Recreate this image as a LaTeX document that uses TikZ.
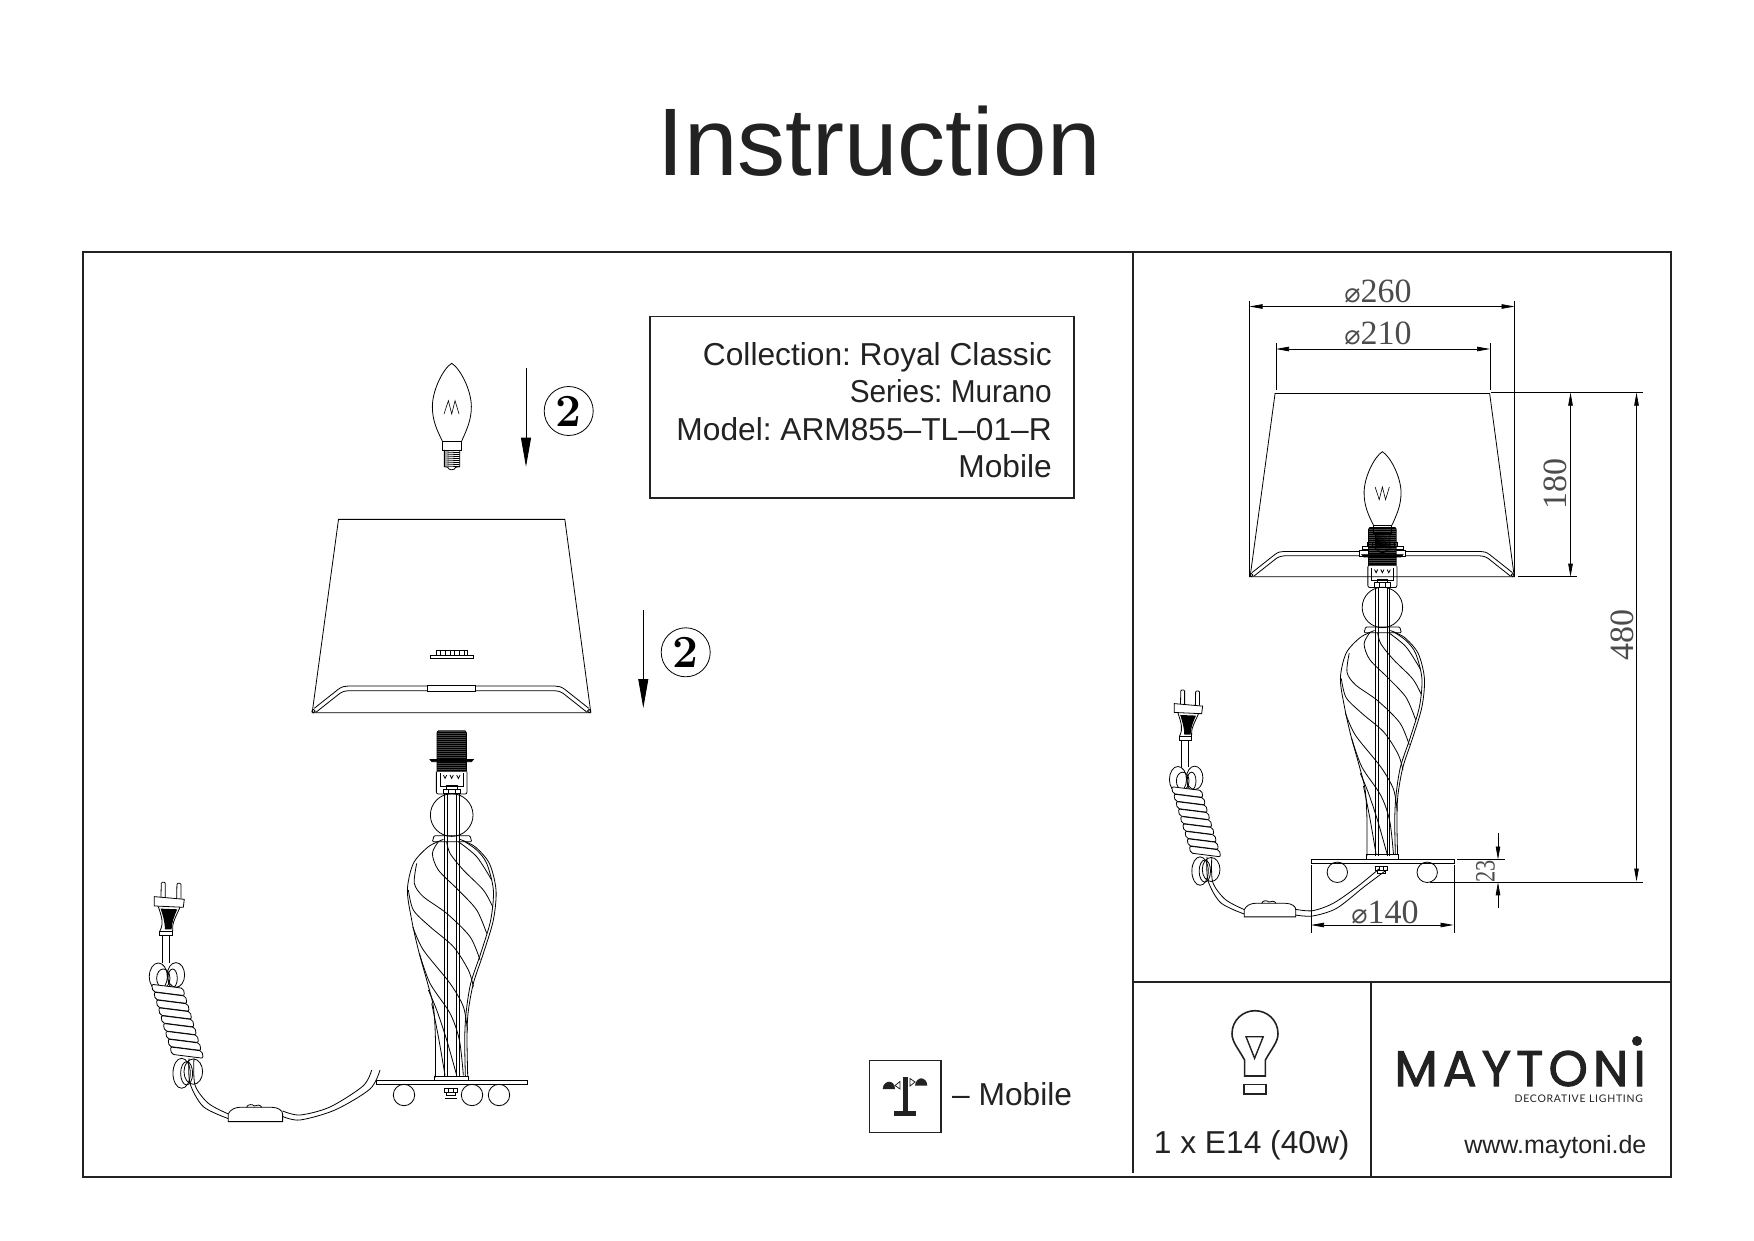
\documentclass[tikz,border=0pt]{standalone}
\usepackage{fontspec}
\usetikzlibrary{arrows.meta}
\frenchspacing
\newfontfamily\labelfont{Liberation Sans}
\newfontfamily\dimfont{Liberation Serif}
\newfontfamily\symfont{DejaVu Sans}
\newfontfamily\logofont[LetterSpace=10.5,FakeBold=2]{Poppins}
\newfontfamily\subfont[LetterSpace=7]{Lato}
\definecolor{inkdark}{HTML}{222222}
\tikzset{
  framerule/.style={draw=inkdark,line width=1.7pt},
  sketch/.style={draw=black,line width=.8pt},
  labeltext/.style={font=\labelfont\fontsize{31.7}{36}\selectfont,text=inkdark,inner sep=0pt},
  dimtext/.style={font=\dimfont\fontsize{34}{36}\selectfont,text=black!70,inner sep=0pt},
  dimline/.style={draw=black,line width=.7pt},
  dimarrow/.style={draw=black,line width=.7pt,{Triangle[length=13pt,width=4.5pt]}-{Triangle[length=13pt,width=4.5pt]}},
  fitarrow/.style={draw=black,line width=.8pt,-{Triangle[length=29pt,width=10pt]}},
  lampshade/.pic={
    \begin{scope}[shift={(-515,-1118)}]
      \draw[sketch] (97,1118) -- (176,538) -- (855,538) -- (933,1118) -- cycle;
      \draw[sketch] (103,1105) -- (175,1048) .. controls (185,1040) and (195,1038) .. (205,1038) -- (442,1038);
      \draw[sketch] (108,1117) -- (180,1060) .. controls (190,1054) and (198,1052) .. (205,1052) -- (442,1052);
      \draw[sketch] (927,1105) -- (855,1048) .. controls (845,1040) and (835,1038) .. (825,1038) -- (588,1038);
      \draw[sketch] (922,1117) -- (850,1060) .. controls (840,1054) and (832,1052) .. (825,1052) -- (588,1052);
      \draw[sketch] (442,1035) rectangle (588,1054);
      \draw[sketch] (101,1113) circle (5);
      \draw[sketch] (928,1113) circle (5);
    \end{scope}
  },
  shadeclip/.pic={
    \begin{scope}[shift={(-515,-946)}]
      \draw[sketch] (451,946) rectangle (580,955);
      \draw[sketch] (468,932) rectangle (563,946);
      \foreach \x in {482,496,510,524,538,552}
        \draw[sketch] (\x,932) -- (\x,946);
    \end{scope}
  },
  lampbulb/.pic={
    \begin{scope}[shift={(-515,-70)}]
      \draw[sketch] (487,303) .. controls (470,270) and (457,240) .. (457,200)
        .. controls (457,150) and (490,85) .. (515,70)
        .. controls (540,85) and (574,150) .. (574,200)
        .. controls (574,240) and (560,270) .. (545,303);
      \draw[sketch] (487,303) rectangle (545,330);
      \draw[sketch] (493,330) -- (493,380) -- (503,382) .. controls (505,392) and (525,392) .. (527,382) -- (539,380) -- (539,330);
      \foreach \y in {336,342,...,378}
        \draw[sketch] (493,\y) -- (539,\y+2);
    \end{scope}
  },
  bulbwire/.pic={
    \draw[draw=black,line width=.6pt] (-23,20) -- (-10,-20) -- (0,20) -- (10,-20) -- (22,20);
  },
  lampbody/.pic={
    \begin{scope}[shift={(-965,-1082)}]
      % thread of the socket
      \fill[black!72] (921,34) rectangle (1009,155);
      \foreach \y in {36,42,...,154}
        \draw[draw=black,line width=.6pt] (921,\y) -- (1009,\y);
      \draw[sketch] (921,155) -- (921,38) -- (925,32) -- (1005,32) -- (1009,38) -- (1009,155);
      \draw[sketch,fill=black] (900,118) -- (1030,118) -- (1024,125) -- (906,125) -- cycle;
      \draw[sketch,rounded corners=2pt] (919,155) -- (919,222) -- (1011,222) -- (1011,155);
      \draw[sketch] (930,160) -- (930,200) -- (1000,200) -- (1000,160);
      \draw[sketch] (948,195) rectangle (982,207);
      \draw[sketch] (940,207) rectangle (990,220);
      \draw[sketch] (955,207) -- (955,220);
      \draw[sketch] (975,207) -- (975,220);
      \draw[sketch] (940,165) -- (945,175) -- (950,165) (960,165) -- (965,175) -- (970,165) (980,165) -- (985,175) -- (990,165);
      % sphere and collar
      \draw[sketch] (965,285) circle (64);
      \draw[sketch,rounded corners=1pt] (912,347) -- (1020,347) -- (1025,365) -- (907,365) -- cycle;
      % rods
      \draw[sketch] (942,222) -- (942,1072);
      \draw[sketch] (952,222) -- (952,1072);
      \draw[sketch] (980,222) -- (980,1072);
      \draw[sketch] (988,222) -- (988,1072);
      % outer shape of the glass
      \draw[sketch] plot[smooth] coordinates {(940,358) (895,380) (850,430) (832,510) (845,600) (865,690) (890,780) (910,860) (916,950) (916,1072)};
      \draw[sketch] plot[smooth] coordinates {(990,358) (1035,380) (1078,430) (1098,510) (1090,600) (1060,700) (1030,790) (1014,880) (1011,960) (1013,1068)};
      \draw[sketch] plot[smooth] coordinates {(1000,362) (1040,390) (1070,430) (1090,510) (1082,600) (1052,700) (1022,790) (1008,880) (1004,960) (1006,1068)};
      % swirls
      \draw[sketch] plot[smooth] coordinates {(950,365) (960,400) (1000,450) (1060,510) (1088,560)};
      \draw[sketch] plot[smooth] coordinates {(925,365) (907,400) (925,450) (985,510) (1040,570) (1070,640)};
      \draw[sketch] plot[smooth] coordinates {(860,430) (853,490) (880,530) (950,580) (1020,650) (1050,720)};
      \draw[sketch] plot[smooth] coordinates {(835,510) (850,570) (900,620) (970,680) (1015,750) (1030,800)};
      \draw[sketch] plot[smooth] coordinates {(848,620) (880,690) (960,790) (1000,860) (1012,930)};
      \draw[sketch] plot[smooth] coordinates {(868,700) (900,790) (960,880) (988,960) (1000,1066)};
      \draw[sketch] plot[smooth] coordinates {(895,810) (920,870) (950,960) (980,1066)};
      \draw[sketch] plot[smooth] coordinates {(905,850) (925,950) (945,1066)};
      \draw[sketch] plot[smooth] coordinates {(985,365) (1040,410) (1085,480)};
      % foot
      \draw[sketch] (914,1068) rectangle (1016,1082);
      \draw[sketch] (740,1082) rectangle (1192,1094);
      \draw[sketch] (942,1105) rectangle (982,1118);
      \draw[sketch] (948,1118) rectangle (976,1127);
      \draw[sketch] (955,1105) -- (955,1118) (969,1105) -- (969,1118);
    \end{scope}
  },
  lampcord/.pic={
    \begin{scope}[shift={(-100,-487)}]
      % plug
      \draw[sketch,rounded corners=1pt] (93,532) -- (94,487) -- (106,487) -- (106,532);
      \draw[sketch,rounded corners=1pt] (140,536) -- (141,490) -- (153,490) -- (153,536);
      \draw[sketch] (73,530) -- (163,538) -- (160,562) -- (73,558) -- cycle;
      \draw[sketch] (85,560) .. controls (95,590) and (102,610) .. (90,633);
      \draw[sketch] (150,562) .. controls (138,590) and (125,610) .. (128,633);
      \fill[black] (92,566) -- (142,568) .. controls (132,590) and (125,610) .. (125,628) -- (105,628) .. controls (105,610) and (100,590) .. (92,566) -- cycle;
      \draw[sketch] (88,633) rectangle (128,645);
      \draw[sketch] (97,645) -- (97,730);
      \draw[sketch] (118,645) -- (118,730);
      % loops of the coil
      \draw[sketch] (85,770) ellipse (27 and 41);
      \draw[sketch] (138,765) ellipse (26 and 37);
      \draw[sketch] (100,775) ellipse (20 and 28);
      \draw[sketch] (128,775) ellipse (14 and 28);
      \draw[sketch] (155,1060) ellipse (26 and 45);
      \draw[sketch] (190,1055) ellipse (28 and 38);
      \draw[sketch] (170,1060) ellipse (18 and 35);
      % turns of the coil
      \foreach \i in {0,...,8}
        \draw[sketch,fill=white,rounded corners=2pt] ({65+7*\i},{793+23.5*\i}) -- ({160+7*\i},{805+23.5*\i}) -- ({164+7*\i},{827+23.5*\i}) -- ({69+7*\i},{815+23.5*\i}) -- cycle;
      % cable and switch
      \draw[sketch] plot[smooth] coordinates {(177,1015) (180,1090) (220,1160) (295,1196)};
      \draw[sketch] plot[smooth] coordinates {(192,1015) (195,1095) (235,1150) (295,1182)};
      \draw[sketch,fill=white] (295,1205) -- (295,1182) .. controls (300,1170) and (315,1162) .. (330,1162) -- (425,1162) .. controls (445,1162) and (458,1172) .. (458,1182) -- (458,1205) -- cycle;
      \draw[sketch] (350,1162) .. controls (352,1152) and (370,1152) .. (372,1158) .. controls (380,1154) and (392,1154) .. (395,1162);
    \end{scope}
  }
}
\begin{document}
\begin{tikzpicture}[x=1pt,y=-1pt]
  \useasboundingbox (0,0) rectangle (1754,1241);
  % title and frames
  \node[font=\labelfont\fontsize{96}{100}\selectfont,text=inkdark,inner sep=0pt,anchor=base] (title) at (879,176) {Instruction};
  \draw[framerule] (83,252) rectangle (1671,1177);
  \draw[framerule] (1133,252) -- (1133,1173);
  \draw[framerule] (1133,982) -- (1671,982);
  \draw[framerule] (1371,982) -- (1371,1177);
  \draw[framerule] (650,316.5) rectangle (1074,498);
  % model box
  \node[labeltext,anchor=base east] (collection) at (1052,365) {Collection: Royal Classic};
  \node[labeltext,anchor=base east,xscale=.94] (series) at (1052,402.5) {Series: Murano};
  \node[labeltext,anchor=base east] (model) at (1052,440) {Model: ARM855–TL–01–R};
  \node[labeltext,anchor=base east] (mobile) at (1052,477.5) {Mobile};
  % exploded lamp
  \pic[scale=.3333] at (451.7,363.3) {lampbulb};
  \pic[scale=.3333] at (451.7,407.3) {bulbwire};
  \pic[scale=.3333] at (451.5,712.7) {lampshade};
  \pic[scale=.3333] at (451.7,655.3) {shadeclip};
  \pic[scale=.3333] at (451.7,1080.7) {lampbody};
  \pic[scale=.3333] at (163.3,882.3) {lampcord};
  \draw[sketch] (404,1095) circle (10.7);
  \draw[sketch] (472,1095) circle (10.7);
  \draw[sketch] (499,1095) circle (10.7);
  \draw[sketch] (445,1098) -- (457,1098);
  \draw[sketch] plot[smooth] coordinates {(282.7,1111) (300,1115) (330,1107) (363,1086) (371.7,1070)};
  \draw[sketch] plot[smooth] coordinates {(282.7,1116.5) (300,1120) (335,1110) (370,1089) (380,1070)};
  % fitting arrows
  \coordinate (arrowa1) at (526,368.3);
  \coordinate (arrowa2) at (526,466.7);
  \coordinate (arrowb1) at (643.3,610);
  \coordinate (arrowb2) at (643.3,708);
  \draw[fitarrow] (arrowa1) -- (arrowa2);
  \draw[fitarrow] (arrowb1) -- (arrowb2);
  \node[draw=black,line width=.8pt,circle,minimum size=49pt,inner sep=0pt,font=\bfseries\fontsize{46}{46}\selectfont] (stepa) at (568.7,411) {2};
  \node[draw=black,line width=.8pt,circle,minimum size=49pt,inner sep=0pt,font=\bfseries\fontsize{46}{46}\selectfont] (stepb) at (685.7,652.3) {2};
  % mobile icon
  \draw[draw=inkdark,line width=1.5pt] (869.3,1060.7) rectangle (941,1132.7);
  \fill[inkdark] (903.3,1077.3) rectangle (907.7,1111.7);
  \fill[inkdark] (894,1111.3) rectangle (916,1116);
  \fill[inkdark] (882.7,1089) .. controls (882.7,1083) and (888,1081.7) .. (889,1081.7) .. controls (892,1081.7) and (895,1084) .. (895,1089) -- cycle;
  \fill[inkdark] (915,1085.7) .. controls (915,1080) and (920,1078.3) .. (921,1078.3) .. controls (924,1078.3) and (927.3,1081) .. (927.3,1085.7) -- cycle;
  \draw[draw=inkdark,line width=.8pt] (895,1085.5) -- (900,1081.5) -- (900,1089) -- cycle;
  \draw[draw=inkdark,line width=.8pt] (915,1082) -- (910,1078.5) -- (910,1086) -- cycle;
  \node[labeltext,anchor=base west] (mobilekey) at (952,1105) {– Mobile};
  % dimensioned lamp
  \pic[scale=.316] at (1382.2,576.7) {lampshade};
  \pic[scale=.316] at (1382.4,859.3) {lampbody};
  \pic[scale=.316] at (1382.4,546.7) {shadeclip};
  \pic[scale=.316] at (1382.4,451.7) {lampbulb};
  \pic[scale=.316,yscale=-1] at (1382.4,493.3) {bulbwire};
  \pic[scale=.316] at (1182.7,690) {lampcord};
  \draw[sketch] (1337.3,872.3) circle (10.2);
  \draw[sketch] (1427.2,872.3) circle (10.2);
  \draw[sketch] plot[smooth] coordinates {(1295.3,909.3) (1312.5,910.7) (1333.2,903.3) (1357.3,886.7) (1379.7,868.3)};
  \draw[sketch] plot[smooth] coordinates {(1295.3,915) (1312.5,916) (1336.6,908.3) (1364.2,886.7) (1386.5,870)};
  % dimensions
  \coordinate (w260a) at (1249.5,306.5);
  \coordinate (w260b) at (1514.6,306.5);
  \coordinate (w210a) at (1276,349);
  \coordinate (w210b) at (1490,349);
  \coordinate (h180a) at (1570.5,392.6);
  \coordinate (h180b) at (1570.5,576.7);
  \coordinate (h480a) at (1636.5,392.6);
  \coordinate (h480b) at (1636.5,881.5);
  \coordinate (w140a) at (1311,925);
  \coordinate (w140b) at (1453.5,925);
  \draw[dimarrow] (w260a) -- (w260b);
  \draw[dimarrow] (w210a) -- (w210b);
  \draw[dimarrow] (h180a) -- (h180b);
  \draw[dimarrow] (h480a) -- (h480b);
  \draw[dimarrow] (w140a) -- (w140b);
  \draw[dimline] (1249.5,301) -- (1249.5,576.7);
  \draw[dimline] (1514.6,301) -- (1514.6,576.7);
  \draw[dimline] (1276,343) -- (1276,390);
  \draw[dimline] (1490,343) -- (1490,390);
  \draw[dimline] (1491,392.6) -- (1643,392.6);
  \draw[dimline] (1518,576.7) -- (1577,576.7);
  \draw[dimline] (1430,882.3) -- (1643,882.3);
  \draw[dimline] (1457,859.5) -- (1505,859.5);
  \draw[dimline] (1311,865) -- (1311,933);
  \draw[dimline] (1454,865) -- (1454,933);
  \draw[dimline,-{Triangle[length=13pt,width=4.5pt]}] (1498,833) -- (1498,859.5);
  \draw[dimline,-{Triangle[length=13pt,width=4.5pt]}] (1498,908) -- (1498,882.3);
  \node[dimtext,anchor=base] (d260) at (1378,303) {{\symfont\fontsize{27}{27}\selectfont ⌀}260};
  \node[dimtext,anchor=base] (d210) at (1378,344.5) {{\symfont\fontsize{27}{27}\selectfont ⌀}210};
  \node[dimtext,anchor=base] (d140) at (1385,923) {{\symfont\fontsize{27}{27}\selectfont ⌀}140};
  \node[dimtext,rotate=90] (d180) at (1555,484) {180};
  \node[dimtext,rotate=90] (d480) at (1622,635) {480};
  \node[dimtext,rotate=90,xscale=.8,font=\dimfont\fontsize{28}{30}\selectfont] (d23) at (1485.5,871) {23};
  % lamp key and brand
  \draw[draw=inkdark,line width=1.6pt] (1244.6,1076) -- (1244.6,1060) .. controls (1238,1048) and (1232,1042) .. (1232,1033.7)
    .. controls (1232,1020) and (1243,1010.7) .. (1255,1010.7) .. controls (1267,1010.7) and (1278,1020) .. (1278,1033.7)
    .. controls (1278,1042) and (1272,1048) .. (1265.4,1060) -- (1265.4,1076) -- cycle;
  \draw[draw=inkdark,line width=1.4pt] (1246,1036.7) -- (1263.2,1036.7) -- (1254.6,1058.3) -- cycle;
  \draw[draw=inkdark,line width=1.6pt] (1244,1084.3) rectangle (1266,1094);
  \node[labeltext,anchor=base] (lampcount) at (1251.7,1153) {1 x E14 (40w)};
  \node[font=\logofont\fontsize{50}{54}\selectfont,text=inkdark,inner sep=0pt,anchor=base east] (brand) at (1646,1086) {MAYTONI};
  \fill[inkdark] (1637,1041) circle (5);
  \node[font=\subfont\fontsize{10.5}{12}\selectfont,text=inkdark,inner sep=0pt,anchor=base east] (tagline) at (1643.2,1102.3) {DECORATIVE LIGHTING};
  \node[font=\labelfont\fontsize{25}{28}\selectfont,text=inkdark,inner sep=0pt,anchor=base east] (website) at (1646.6,1153) {www.maytoni.de};
\end{tikzpicture}
\end{document}
